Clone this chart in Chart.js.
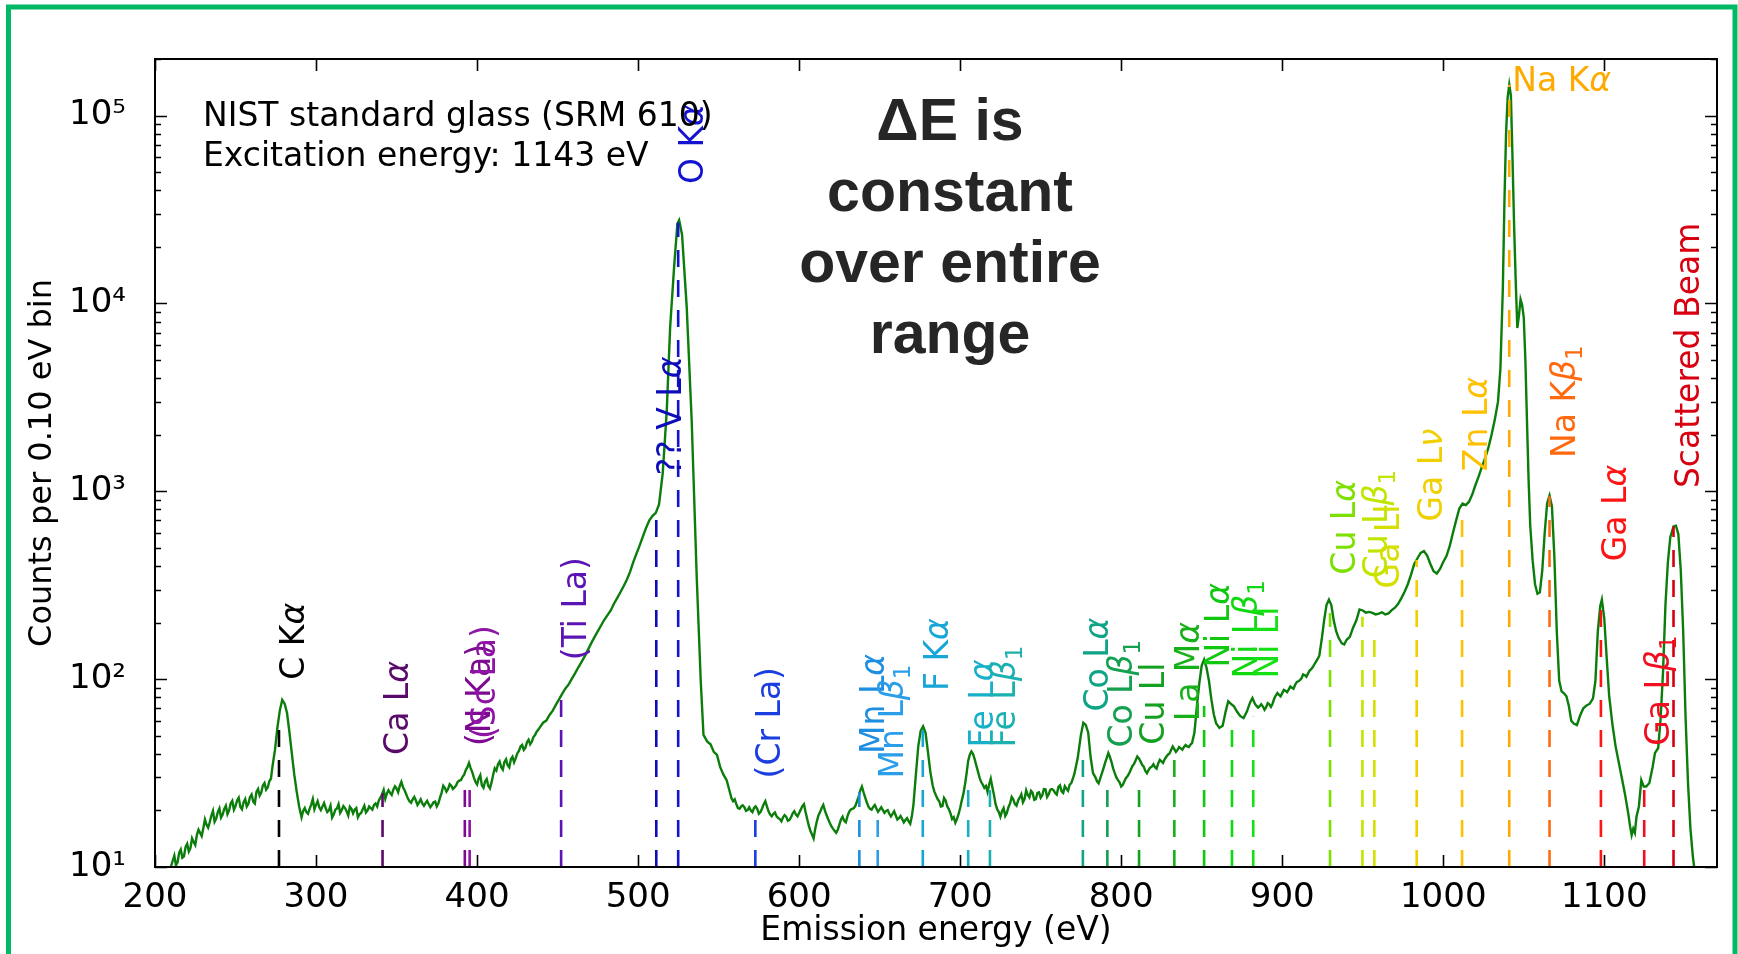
<!DOCTYPE html>
<html><head><meta charset="utf-8">
<script src="https://cdn.jsdelivr.net/npm/chart.js"></script>
<style>html,body{margin:0;padding:0;background:#fff;overflow:hidden}canvas{display:block}</style>
</head><body>
<canvas id="c" width="1738" height="954"></canvas>
<script>
// ---- spectrum (emission energy in eV, counts per 0.10 eV bin) ----
const energy = [
209,211,213,215,217,219,221,223,225,227,229,231,233,235,237,239,241,243,245,247,249,251,253,255,257,259,261,263,265,267,269,271,273,274.5,276,277.5,279,280.5,282,283.5,285,286.5,288,289.5,291,293,295,297,299,301,303,305,307,309,311,313,315,317,319,321,323,325,327,329,331,333,335,337,339,341,343,345,347,349,351,353,355,357,359,361,363,365,367,369,371,373,375,377,379,381,383,385,387,389,391,393,395,397,399,401,403,405,407,409,411,413,415,417,419,421,423,425,427,429,431,433,435,437,439,441,443,445,447,449,451,453,455,457,459,461,463,465,467,469,471,473,475,477,479,481,483,485,487,489,491,493,495,497,499,501,503,505,507,509,511,513,515.3,517.8,519.9,522.4,524.4,525.5,527.3,530.2,533.3,536.4,538.9,540.6,543,545,547,549,551,553,555,557,559,561,563,565,567,569,571,573,575,577,579,581,583,585,587,589,591,593,595,597,599,601,603,605,607,609,611,613,615,617,619,621,623,625,627,629,631,633,635,637,639,641,643,645,647,649,651,653,655,657,659,661,663,665,667,669,671,672.5,674,675.5,677,678.5,680,681.5,683,685,687,689,691,693,695,697,699,701,703,705,707,709,711,713,715,717,719,721,723,725,727,729,731,733,735,737,739,741,743,745,747,749,751,753,755,757,759,761,763,765,767,769,771,773,775,776.5,778,779.5,781,782.5,784,786,788,790,792,794,796,798,800,802,804,806,808,810,812,814,816,818,820,822,824,826,828,830,832,834,836,838,840,842,844,845.5,847,848.5,850,851.5,853,854.5,856,857.5,859,861,863,865,866.5,868,870,872,874,876,878,880,881.5,883,885,887,889,891,893,895,897,899,901,903,905,907,909,911,913,915,917,919,921,923,924.5,926,927.5,929,930.5,932,933.5,935,937,938.5,940,942,944,946,948,950,952,954,956,958,960,962,964,966,968,970,972,974,976,978,980,982,984,986,988,990,992,994,996,998,1000,1002,1004,1006,1008,1010,1012,1014,1016,1018,1020,1022,1024,1026,1028,1030,1032,1034,1035.5,1037,1038,1039,1040,1041,1042,1043,1044,1045,1046,1047,1048,1049,1050,1051,1052,1053,1054,1055.5,1057,1058.5,1060,1061.5,1063,1064.5,1066,1067.5,1069,1070.5,1072,1073.5,1075,1076.5,1078,1079.5,1081,1083,1085,1087,1089,1091,1093,1094.5,1096,1097.5,1098.5,1100,1101.5,1103,1105,1107,1109,1111,1113,1115,1116,1117,1118,1119,1120,1121.5,1123,1124.5,1126,1128,1130,1131.5,1133.5,1135,1136.5,1138,1139.5,1141,1143,1144.5,1146,1147.5,1149,1150.5,1152,1153.5,1155,1156.5
];
const counts = [
9.6,10.8,10.2,11.9,11.2,12.8,12.1,14.2,13.1,15.8,14.6,17.9,16.2,18.8,17.4,19.6,18.3,20.4,19.1,21.8,20.2,22.6,20.9,22.1,21.0,23.6,22.3,25.1,24.0,27.2,25.8,28.6,34.5,42,55,68,77.5,74,66,52,40,31,25.2,21,18.4,20.6,19.2,21.5,20.3,22.4,20.1,21.9,19.6,21.2,19.0,20.5,19.4,21.1,19.8,20.9,19.3,20.6,19.1,20.3,19.5,21.0,20.2,21.8,22.6,24.4,23.1,25.6,24.2,26.9,25.0,28.4,25.6,23.2,22.0,23.6,21.4,22.9,21.2,22.5,20.8,22.1,21.0,23.4,27.1,25.2,27.6,26.0,27.2,28.8,30.2,32.8,35.8,32.0,28.4,29.6,27.2,28.5,27.0,28.2,33.5,35.2,34.0,36.2,34.8,37.5,36.1,40.2,43.8,42.0,46.1,45.0,49.2,52.5,55.4,58.6,60.2,64.5,68.0,73.1,78.2,84.0,89.5,94.0,101,108,116,124,133,144,156,168,180,193,207,219,232,252,270,290,312,338,372,420,466,515,575,640,700,740,768,852,1250,2680,7450,15800,26500,27700,23200,9560,2360,351,98,50.5,46.5,45,41,39.5,34,31,29,25,22.4,21.6,20.4,21.3,19.9,20.8,19.6,21.0,19.2,20.5,22.4,19.8,18.6,19.5,18.2,17.5,18.9,17.6,18.4,19.8,18.6,20.2,21.6,18.0,15.6,14.2,17.5,19.6,21.4,18.9,17.2,16.0,15.2,16.8,18.5,17.3,19.6,20.4,21.2,23.8,26.8,23.5,21.0,20.2,21.4,19.7,20.8,19.4,20.1,18.6,19.8,17.9,18.7,17.3,18.2,17.0,21.5,31,44,53,56,52,41,32,27.0,24.0,22.4,21.1,22.6,20.3,18.0,17.2,19.1,22.6,27.5,36.8,41.2,37.5,32.4,28.4,26.4,25.1,29.5,24.2,20.3,18.5,20.6,19.4,21.8,22.9,21.2,23.4,22.1,25.6,23.5,24.8,23.0,25.0,24.1,25.9,24.4,26.0,24.8,26.6,25.3,26.9,25.5,28.0,31.5,38.0,50.5,58.5,57.0,52.0,38.5,31.6,30.0,27.9,31.5,35.8,40.4,36.2,31.6,29.0,26.8,28.6,30.5,33.0,35.4,38.7,36.5,34.2,31.6,33.8,35.2,33.4,37.2,35.8,38.6,40.2,43.8,41.0,43.5,42.1,44.6,43.5,45.7,52,71.6,95,118,127,115,98,78,65,58,55,56.5,68,76.2,74,71.6,67,63.5,62.1,67,75,79.4,74,70.5,73.6,68.7,74.5,71.2,78.6,84.3,81.0,87.6,85.2,91.3,89.0,96.5,98.8,106,103,111,116,124,133,162,205,248,265,248,205,180,166,155,153,162,168,188,205,235,232,226,228,225,221,223,227,221,224,233,240,252,270,292,320,360,410,440,470,481,455,410,375,365,386,420,452,510,600,700,810,860,845,880,960,1080,1200,1350,1500,1700,2000,2400,3000,4500,12000,35000,80000,125000,146000,128000,60000,26000,13100,7400,8600,10500,9800,8400,5000,2360,1150,661,430,320,285,290,380,600,860,950,830,450,180,98,86,84,81,72,60,58,57,64,70,72.5,74,79,98,180,245,265,210,130,82,58,44,36,29.5,24,19,16.5,14.8,16,15.2,18.5,21,29,26.8,26.8,28,34,40.5,43,62,110,250,420,570,650,655,590,380,180,62,28,16,11.4,9
];
// extra readings of the noisy stretches (between the points above)
const energyFine = [
210,212,214,216,218,220,222,224,226,228,230,232,234,236,238,240,242,244,246,248,250,252,254,256,258,260,262,264,266,268,270,272,
292,294,296,298,300,302,304,306,308,310,312,314,316,318,320,322,324,326,328,330,332,334,336,338,340,342,344,346,348,350,352,354,356,358,360,362,364,366,368,370,372,374,376,378,380,382,384,386,388,390,392,394,396,398,400,402,404,406,408,410,412,414,416,418,420,422,424,426,428,430,432,434,436,438,
558,560,562,564,566,568,570,572,574,576,578,580,582,584,586,588,590,592,594,596,598,600,602,604,606,608,610,612,614,616,618,620,622,624,626,628,630,632,634,636,638,640,642,644,646,648,650,652,654,656,658,660,662,664,666,668,670,
684,686,688,690,692,694,696,698,700,702,704,706,708,710,712,714,716,718,720,722,724,726,728,730,732,734,736,738,740,742,744,746,748,750,752,754,756,758,760,762,764,766,768,770,
785,787,789,791,793,795,797,799,801,803,805,807,809,811,813,815,817,819,821,823,825,827,829,831,833,835,837,839,841,843,
884,886,888,890,892,894,896,898,900,902,904,906,908,910,912,914,916,918,920,922
];
const countsFine = [
10.1,11.5,10.6,12.4,11.4,13.3,12.6,13.6,14.8,15.2,16.1,16.8,17.3,19.9,18.1,20.5,19.0,21.2,20.0,22.5,21.1,23.4,20.3,23.0,21.7,24.3,21.8,26.0,24.9,28.0,26.5,29.5,
19.9,19.6,20.4,23.0,21.4,20.8,21.0,20.6,20.0,18.3,20.2,21.6,20.1,20.6,18.8,20.4,20.2,18.4,19.4,21.2,20.0,20.6,21.4,21.0,23.4,25.7,24.6,24.8,25.8,26.2,27.0,26.6,24.4,22.4,22.9,22.6,22.1,21.8,21.9,21.6,21.4,22.3,21.8,24.9,26.4,26.0,27.1,26.5,28.4,29.0,31.0,34.0,33.6,30.0,27.5,30.8,26.4,29.4,26.2,31.0,32.6,36.4,33.0,37.4,33.9,38.6,38.0,41.5,44.6,43.2,47.6,46.4,50.4,53.8,
23.2,22.9,20.6,21.0,20.8,20.1,20.0,20.6,20.4,19.6,21.6,21.0,19.0,19.2,18.6,18.0,18.4,18.5,17.8,19.3,19.0,19.4,21.1,19.6,16.6,14.9,16.0,18.8,20.6,20.0,18.0,16.5,15.6,15.8,17.9,17.6,18.6,20.2,20.6,22.4,25.6,25.0,22.1,20.4,20.9,20.5,20.2,20.1,19.9,19.2,19.2,18.8,18.2,18.0,17.8,17.5,18.6,
25.2,23.0,21.0,23.3,21.0,19.3,18.4,18.0,20.6,24.5,31.5,39.6,40.0,34.8,30.0,27.5,27.0,27.5,26.6,21.6,19.6,19.8,18.7,20.8,23.6,21.6,22.6,24.4,23.0,24.2,25.4,22.8,24.8,23.4,26.0,23.6,25.8,25.6,24.3,27.2,24.8,26.1,27.4,29.5,
28.6,29.6,33.5,38.0,38.5,33.5,30.0,28.2,27.4,29.8,31.6,34.5,37.0,37.8,35.0,32.5,32.8,34.2,34.0,35.6,36.5,37.4,39.6,42.0,42.4,42.0,42.8,43.6,43.8,44.8,
72.0,71.8,71.5,70.9,73.4,74.0,81.8,82.5,84.2,86.8,88.0,90.1,93.0,97.4,101,105,107,113,120,128
];

// ---- reference emission lines ----
const lineEnergies = [277,341.3,392.4,395.4,452.2,511.3,524.9,572.8,637.4,648.8,676.8,705.0,718.5,776.2,791.4,811.1,833.0,851.5,868.8,882.0,929.7,949.8,957.2,983.5,1011.7,1041.0,1066.0,1097.9,1124.8,1143.0];
const lineTops = [62,24.7,27.5,30,78.8,760,27000,18.5,25,18.5,54,27,27,42,27,28,37.3,72,63,63,225,215,190,431,800,146000,940,265,27.6,650];
const lineLabels = ['C Kα','Ca Lα','(N Ka)','(Sc La)','(Ti La)','?? V Lα','O Kα','(Cr La)','Mn Lα','Mn Lβ₁','F Kα','Fe Lα','Fe Lβ₁','Co Lα','Co Lβ₁','Cu Ll','La Mα','Ni Lα','Ni Lβ₁','Ni Ll','Cu Lα','Cu Lβ₁','Ga Ll','Ga Lν','Zn Lα','Na Kα','Na Kβ₁','Ga Lα','Ga Lβ₁','Scattered Beam'];
const horizontalLabels = ['Na Kα'];

// ---- axes ----
const xTickValues = [200,300,400,500,600,700,800,900,1000,1100];
const yTickValues = [10,100,1000,10000,100000];
const yTickLabels = ['10¹','10²','10³','10⁴','10⁵'];
const xTitle = 'Emission energy (eV)';
const yTitle = 'Counts per 0.10 eV bin';
const infoLines = ['NIST standard glass (SRM 610)','Excitation energy: 1143 eV'];
const calloutLines = ['ΔE is','constant','over entire','range'];

// ---- styles ----
const lineColors = ['#000000','#5a0a6a','#7d0a90','#8e14a6','#5c14b4','#0c0cb8','#1414d0','#1a3ee0','#1e8ee0','#2a9ee8','#18a6d6','#18b0c8','#1cb0b0','#10a486','#14a050','#14a020','#18b018','#10c810','#10d810','#14e014','#7ee000','#c0e600','#d6e000','#f0d000','#ffc000','#ffaa00','#ff6a10','#ff1414','#ee1020','#d80010'];
const FONT = 'DejaVu Sans';
const LABEL_SIZE = 33;

function drawRich(ctx, text, x, y, color, size, rotated) {
  ctx.save();
  ctx.translate(x, y);
  if (rotated) ctx.rotate(-Math.PI / 2);
  ctx.fillStyle = color;
  ctx.textBaseline = 'alphabetic';
  ctx.textAlign = 'left';
  let cx = 0;
  const runs = [];
  for (const ch of text) {
    let kind = 'n';
    if ('αβν'.includes(ch)) kind = 'i';
    else if (ch === '₁') kind = 's';
    if (runs.length && runs[runs.length - 1].kind === kind && kind === 'n') runs[runs.length - 1].t += ch;
    else runs.push({kind, t: ch});
  }
  for (const r of runs) {
    let t = r.t, dy = 0;
    if (r.kind === 'i') ctx.font = `italic ${size}px "${FONT}"`;
    else if (r.kind === 's') { ctx.font = `${Math.round(size * 0.7)}px "${FONT}"`; t = '1'; dy = size * 0.22; }
    else ctx.font = `${size}px "${FONT}"`;
    ctx.fillText(t, cx, dy);
    cx += ctx.measureText(t).width;
  }
  ctx.restore();
}

const decor = {
  id: 'decor',
  beforeDraw(chart) {
    const ctx = chart.ctx;
    ctx.save();
    ctx.fillStyle = '#ffffff';
    ctx.fillRect(0, 0, chart.width, chart.height);
    ctx.strokeStyle = '#00b964';
    ctx.lineWidth = 5;
    ctx.beginPath();
    ctx.moveTo(8.5, chart.height + 20);
    ctx.lineTo(8.5, 7);
    ctx.lineTo(1735, 7);
    ctx.lineTo(1735, chart.height + 20);
    ctx.stroke();
    ctx.restore();
  },
  afterDatasetsDraw(chart) {
    const {ctx, chartArea: a, scales: {x, y}} = chart;
    ctx.save();
    ctx.strokeStyle = '#000';
    ctx.lineWidth = 2;
    ctx.strokeRect(a.left, a.top, a.right - a.left, a.bottom - a.top);
    ctx.lineWidth = 1.6;
    ctx.beginPath();
    for (const v of xTickValues) {
      const px = Math.round(x.getPixelForValue(v)) + 0.5;
      ctx.moveTo(px, a.bottom); ctx.lineTo(px, a.bottom - 12);
      ctx.moveTo(px, a.top); ctx.lineTo(px, a.top + 12);
    }
    for (let d = 1; d <= 5; d++) {
      for (let k = 1; k <= 9; k++) {
        const v = k * Math.pow(10, d);
        if (v < y.min || v > y.max) continue;
        const py = Math.round(y.getPixelForValue(v)) + 0.5;
        const len = k === 1 ? 12 : 6;
        ctx.moveTo(a.left, py); ctx.lineTo(a.left + len, py);
        ctx.moveTo(a.right, py); ctx.lineTo(a.right - len, py);
      }
    }
    ctx.stroke();
    ctx.restore();
  },
  afterDraw(chart) {
    const {ctx, chartArea: a, scales: {x, y}} = chart;
    lineEnergies.forEach((e, i) => {
      const px = x.getPixelForValue(e);
      if (horizontalLabels.includes(lineLabels[i])) {
        drawRich(ctx, lineLabels[i], px + 3, y.getPixelForValue(lineTops[i]) + 6, lineColors[i], LABEL_SIZE, false);
      } else {
        drawRich(ctx, lineLabels[i], px + 25, y.getPixelForValue(lineTops[i] * 1.6), lineColors[i], LABEL_SIZE, true);
      }
    });
    ctx.save();
    ctx.fillStyle = '#000';
    ctx.font = `33px "${FONT}"`;
    ctx.textAlign = 'left';
    ctx.textBaseline = 'alphabetic';
    infoLines.forEach((t, i) => ctx.fillText(t, a.left + 48, a.top + 67 + i * 40));
    ctx.fillStyle = '#262626';
    ctx.font = 'bold 59px "Liberation Sans"';
    ctx.textAlign = 'center';
    calloutLines.forEach((t, i) => ctx.fillText(t, 950, a.top + 81 + i * 71));
    ctx.restore();
  }
};

const spectrum = energy.map((e, i) => ({x: e, y: counts[i]}))
  .concat(energyFine.map((e, i) => ({x: e, y: countsFine[i]})))
  .sort((p, q) => p.x - q.x);

const datasets = [{
  data: spectrum,
  borderColor: '#0a7d0a',
  borderWidth: 2.4,
  pointRadius: 0,
  tension: 0,
  order: 2
}];
lineEnergies.forEach((e, i) => {
  datasets.push({
    data: [{x: e, y: 10}, {x: e, y: lineTops[i]}],
    borderColor: lineColors[i],
    borderWidth: 2.6,
    borderDash: [17, 13],
    pointRadius: 0,
    order: 1
  });
});

new Chart(document.getElementById('c'), {
  type: 'line',
  data: {datasets},
  plugins: [decor],
  options: {
    responsive: false,
    animation: false,
    devicePixelRatio: 1,
    layout: {padding: {top: 59, right: 21, left: 0, bottom: 0}},
    plugins: {legend: {display: false}, tooltip: {enabled: false}},
    scales: {
      x: {
        type: 'linear', min: 200, max: 1170,
        grid: {display: false}, border: {display: false},
        afterBuildTicks: s => { s.ticks = xTickValues.map(v => ({value: v})); },
        afterFit: s => { s.height = 87; },
        ticks: {autoSkip: false, maxRotation: 0, color: '#000', padding: 3, font: {family: FONT, size: 34},
          callback: v => String(v)},
        title: {display: true, text: xTitle, color: '#000', font: {family: FONT, size: 33}, padding: {top: 0, bottom: 3}}
      },
      y: {
        type: 'logarithmic', min: 10, max: 200000,
        grid: {display: false}, border: {display: false},
        afterBuildTicks: s => { s.ticks = yTickValues.map(v => ({value: v})); },
        afterFit: s => { s.width = 155; },
        ticks: {autoSkip: false, color: '#000', padding: 21, font: {family: FONT, size: 34},
          callback: v => { const i = yTickValues.indexOf(v); return i >= 0 ? yTickLabels[i] : ''; }},
        title: {display: true, text: yTitle, color: '#000', font: {family: FONT, size: 32}, padding: {top: 23, bottom: 0}}
      }
    }
  }
});
</script>
</body></html>
